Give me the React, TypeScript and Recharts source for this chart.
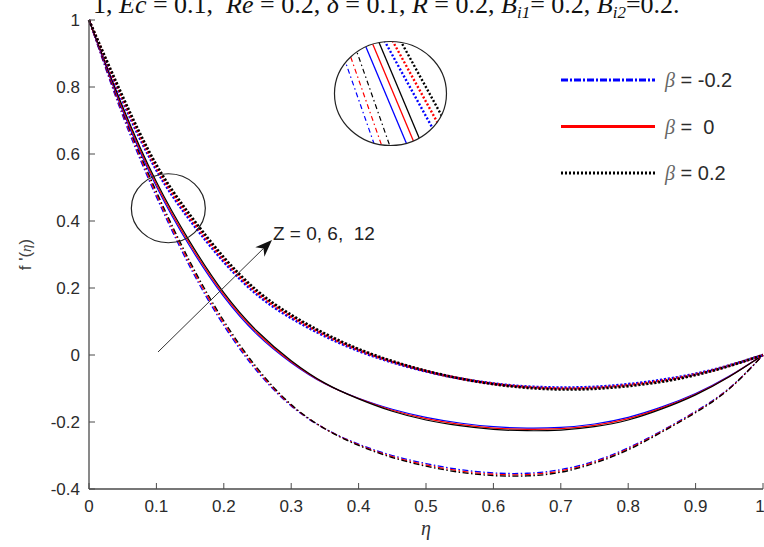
import React from 'react';
import { LineChart, Line, XAxis, YAxis, ReferenceLine, ReferenceDot, Legend } from 'recharts';

// eta grid shared by every curve
const etaValues = [0, 0.05, 0.1, 0.15, 0.2, 0.25, 0.3, 0.35, 0.4, 0.45, 0.5, 0.55, 0.6, 0.65, 0.7, 0.75, 0.8, 0.85, 0.9, 0.95, 1];

// beta = -0.2 (dash-dot), Z = 0, 6, 12
const bNegZ0 = [1.0, 0.714, 0.472, 0.262, 0.088, -0.05, -0.152, -0.22, -0.266, -0.3, -0.324, -0.342, -0.352, -0.353, -0.342, -0.317, -0.277, -0.226, -0.168, -0.099, 0];
const bNegZ6 = [1.0, 0.72, 0.48, 0.27, 0.095, -0.045, -0.15, -0.22, -0.268, -0.303, -0.328, -0.346, -0.356, -0.357, -0.346, -0.32, -0.28, -0.228, -0.17, -0.1, 0];
const bNegZ12 = [1.0, 0.726, 0.488, 0.278, 0.102, -0.04, -0.148, -0.22, -0.27, -0.306, -0.332, -0.35, -0.36, -0.361, -0.35, -0.323, -0.283, -0.23, -0.172, -0.101, 0];

// beta = 0 (solid)
const bZeroZ0 = [1.0, 0.729, 0.503, 0.323, 0.174, 0.06, -0.023, -0.086, -0.129, -0.162, -0.186, -0.203, -0.214, -0.218, -0.216, -0.206, -0.186, -0.155, -0.115, -0.063, 0];
const bZeroZ6 = [1.0, 0.735, 0.51, 0.33, 0.18, 0.065, -0.02, -0.085, -0.13, -0.165, -0.19, -0.207, -0.218, -0.222, -0.22, -0.21, -0.19, -0.158, -0.117, -0.064, 0];
const bZeroZ12 = [1.0, 0.741, 0.517, 0.337, 0.186, 0.07, -0.017, -0.084, -0.131, -0.168, -0.194, -0.211, -0.222, -0.226, -0.224, -0.214, -0.194, -0.161, -0.119, -0.065, 0];

// beta = 0.2 (dotted)
const bPosZ0 = [1.0, 0.758, 0.552, 0.402, 0.278, 0.179, 0.11, 0.056, 0.012, -0.022, -0.049, -0.07, -0.085, -0.094, -0.097, -0.095, -0.087, -0.074, -0.056, -0.031, 0];
const bPosZ6 = [1.0, 0.765, 0.56, 0.41, 0.285, 0.185, 0.115, 0.06, 0.015, -0.02, -0.048, -0.07, -0.086, -0.096, -0.1, -0.098, -0.09, -0.077, -0.058, -0.032, 0];
const bPosZ12 = [1.0, 0.772, 0.568, 0.418, 0.292, 0.191, 0.12, 0.064, 0.018, -0.018, -0.047, -0.07, -0.087, -0.098, -0.103, -0.101, -0.093, -0.08, -0.06, -0.033, 0];

const xTicks = [0, 0.1, 0.2, 0.3, 0.4, 0.5, 0.6, 0.7, 0.8, 0.9, 1];
const yTicks = [-0.4, -0.2, 0, 0.2, 0.4, 0.6, 0.8, 1];
const legendLabels = ['-0.2', ' 0', '0.2'];
const zLabel = 'Z = 0, 6,  12';

const BLUE = '#0000ff';
const RED = '#ff0000';
const BLACK = '#000000';
const DASHDOT = '6 2.5 1.5 2.5';
const DOTTED = '2.2 1.8';

const series = [
  { key: 'bNegZ0', values: bNegZ0, color: BLUE, dash: DASHDOT, w: 1.3 },
  { key: 'bNegZ6', values: bNegZ6, color: RED, dash: DASHDOT, w: 1.3 },
  { key: 'bNegZ12', values: bNegZ12, color: BLACK, dash: DASHDOT, w: 1.3 },
  { key: 'bZeroZ0', values: bZeroZ0, color: BLUE, dash: undefined, w: 1.2 },
  { key: 'bZeroZ6', values: bZeroZ6, color: RED, dash: undefined, w: 1.2 },
  { key: 'bZeroZ12', values: bZeroZ12, color: BLACK, dash: undefined, w: 1.2 },
  { key: 'bPosZ0', values: bPosZ0, color: BLUE, dash: DOTTED, w: 2.6 },
  { key: 'bPosZ6', values: bPosZ6, color: RED, dash: DOTTED, w: 2.6 },
  { key: 'bPosZ12', values: bPosZ12, color: BLACK, dash: DOTTED, w: 2.6 },
];

const data = etaValues.map((eta, i) => {
  const row: Record<string, number> = { eta };
  series.forEach(s => { row[s.key] = s.values[i]; });
  return row;
});

const AXIS = '#4a4a4a';
const TXT = '#2b2b2b';
const SANS = '"Liberation Sans", Arial, sans-serif';
const SERIF = '"Liberation Serif", "Times New Roman", serif';

const XTick = ({ x, y, payload }: any) => (
  <text x={x} y={y} dy="0.72em" textAnchor="middle" fontSize={17} fill={TXT} fontFamily={SANS}>
    {String(payload.value)}
  </text>
);

const YTick = ({ x, y, payload }: any) => (
  <text x={x} y={y} dy="0.36em" textAnchor="end" fontSize={17} fill={TXT} fontFamily={SANS}>
    {String(payload.value)}
  </text>
);

// magnified view in the inset circle: offset at centre row, slope dx/dy
const insetLines = [
  { dx: -34, s: 0.35, color: BLUE, dash: '5 3 1.5 3', w: 1.2 },
  { dx: -27, s: 0.35, color: RED, dash: '5 3 1.5 3', w: 1.2 },
  { dx: -19, s: 0.35, color: BLACK, dash: '5 3 1.5 3', w: 1.2 },
  { dx: -5, s: 0.42, color: BLUE, dash: undefined, w: 1.3 },
  { dx: 3, s: 0.42, color: RED, dash: undefined, w: 1.3 },
  { dx: 10, s: 0.42, color: BLACK, dash: undefined, w: 1.3 },
  { dx: 23, s: 0.55, color: BLUE, dash: '2 2', w: 2.4 },
  { dx: 31, s: 0.55, color: RED, dash: '2 2', w: 2.4 },
  { dx: 39, s: 0.55, color: BLACK, dash: '2 2', w: 2.4 },
];

const InsetShape = ({ cx, cy }: any) => (
  <g>
    <defs>
      <clipPath id="insetClip">
        <ellipse cx={cx} cy={cy} rx={56} ry={52} />
      </clipPath>
    </defs>
    <g clipPath="url(#insetClip)">
      {insetLines.map((l, i) => (
        <line key={i} x1={cx + l.dx - l.s * 60} y1={cy - 60} x2={cx + l.dx + l.s * 60} y2={cy + 60}
          stroke={l.color} strokeWidth={l.w} strokeDasharray={l.dash} />
      ))}
    </g>
    <ellipse cx={cx} cy={cy} rx={56} ry={52} fill="none" stroke="#222" strokeWidth={1.2} />
  </g>
);

const RingShape = ({ cx, cy }: any) => (
  <ellipse cx={cx} cy={cy} rx={37} ry={34.5} fill="none" stroke="#222" strokeWidth={1.2} />
);

const ArrowShape = (p: any) => {
  const { x1, y1, x2, y2 } = p;
  const a = Math.atan2(y2 - y1, x2 - x1);
  const c = Math.cos(a), s = Math.sin(a);
  const L = 17, hw = 6.5;
  const bx = x2 - L * c, by = y2 - L * s;
  const nx = x2 - L * 0.7 * c, ny = y2 - L * 0.7 * s;
  const pts = [
    `${x2},${y2}`,
    `${bx - hw * s},${by + hw * c}`,
    `${nx},${ny}`,
    `${bx + hw * s},${by - hw * c}`,
  ].join(' ');
  return (
    <g>
      <line x1={x1} y1={y1} x2={nx} y2={ny} stroke="#333" strokeWidth={1} />
      <polygon points={pts} fill="#111" />
      <text x={x2 + 1} y={y2} fontSize={19} fontFamily={SANS} fill="#222" style={{ whiteSpace: 'pre' }}>{zLabel}</text>
    </g>
  );
};

const renderLegend = () => {
  const styles = [
    { color: BLUE, dash: '7 2 2 2' },
    { color: RED, dash: undefined },
    { color: BLACK, dash: '2 2' },
  ];
  return (
    <svg width={210} height={130}>
      {legendLabels.map((lab, i) => {
        const y = 20 + i * 46.5;
        return (
          <g key={i}>
            <line x1={6} y1={y} x2={100} y2={y} stroke={styles[i].color} strokeWidth={3} strokeDasharray={styles[i].dash} />
            <text x={110} y={y + 7} fontSize={20} fill={TXT} fontFamily={SANS} style={{ whiteSpace: 'pre' }}>
              <tspan fontFamily={SERIF} fontStyle="italic" fill="#666">β</tspan>
              <tspan>{' = ' + lab}</tspan>
            </text>
          </g>
        );
      })}
    </svg>
  );
};

const YLabel = ({ viewBox }: any) => {
  const cy = viewBox.y + viewBox.height / 2;
  return (
    <text transform={`translate(31, ${cy}) rotate(-90)`} textAnchor="middle" fontSize={17} fill="#444" fontFamily={SANS} style={{ whiteSpace: 'pre' }}>
      f '(<tspan fontFamily={SERIF} fontStyle="italic" fontSize={15}>η</tspan>)
    </text>
  );
};

const XLabel = ({ viewBox }: any) => (
  <text x={viewBox.x + viewBox.width / 2} y={535} textAnchor="middle" fontSize={20} fill="#333" fontFamily={SERIF} fontStyle="italic">η</text>
);

export default function App() {
  return (
    <div style={{ position: 'absolute', left: 0, top: 0, width: 764, height: 547, background: '#fff' }}>
      <LineChart width={764} height={547} data={data} margin={{ top: 20, right: 1, bottom: 0, left: 0 }}>
        <text x={93} y={13} fontSize={26} fontFamily={SERIF} fill="#111" style={{ whiteSpace: 'pre' }}>
          1, <tspan fontStyle="italic">Ec</tspan> = 0.1,  <tspan fontStyle="italic">Re</tspan> = 0.2, <tspan fontStyle="italic">δ</tspan> = 0.1, <tspan fontStyle="italic">R</tspan> = 0.2, <tspan fontStyle="italic">B</tspan><tspan fontStyle="italic" fontSize={17} dy={5}>i1</tspan><tspan dy={-5}>= 0.2, </tspan><tspan fontStyle="italic">B</tspan><tspan fontStyle="italic" fontSize={17} dy={5}>i2</tspan><tspan dy={-5}>=0.2.</tspan>
        </text>
        <XAxis dataKey="eta" type="number" domain={[0, 1]} ticks={xTicks} height={58}
          tickSize={-6} tickMargin={17} tick={<XTick />}
          stroke={AXIS} axisLine={{ stroke: AXIS, strokeWidth: 1.3 }} tickLine={{ stroke: AXIS }}
          label={<XLabel />} />
        <XAxis xAxisId="top" orientation="top" dataKey="eta" type="number" domain={[0, 1]} ticks={xTicks} height={0}
          tickSize={-6} tickFormatter={() => ''} stroke={AXIS} axisLine={{ stroke: AXIS, strokeWidth: 1.3 }} />
        <YAxis type="number" domain={[-0.4, 1]} ticks={yTicks} width={89}
          tickSize={-6} tickMargin={15} tick={<YTick />}
          stroke={AXIS} axisLine={{ stroke: AXIS, strokeWidth: 1.3 }} tickLine={{ stroke: AXIS }}
          label={<YLabel />} />
        <YAxis yAxisId="right" orientation="right" type="number" domain={[-0.4, 1]} ticks={yTicks} width={0}
          tickSize={-6} tickFormatter={() => ''} stroke={AXIS} axisLine={{ stroke: AXIS, strokeWidth: 1.3 }} />
        {series.map(s => (
          <Line key={s.key} type="natural" dataKey={s.key} stroke={s.color} strokeWidth={s.w}
            strokeDasharray={s.dash} dot={false} activeDot={false} isAnimationActive={false} />
        ))}
        <ReferenceDot x={0.1177} y={0.438} r={36} shape={RingShape} />
        <ReferenceDot x={0.4473} y={0.7806} r={54} shape={InsetShape} />
        <ReferenceLine segment={[{ x: 0.1024, y: 0.009 }, { x: 0.2715, y: 0.343 }]} shape={ArrowShape} />
        <Legend layout="vertical" align="center" verticalAlign="middle" content={renderLegend}
          wrapperStyle={{ position: 'absolute', left: 555, top: 60, width: 210, height: 130 }} />
      </LineChart>
    </div>
  );
}
